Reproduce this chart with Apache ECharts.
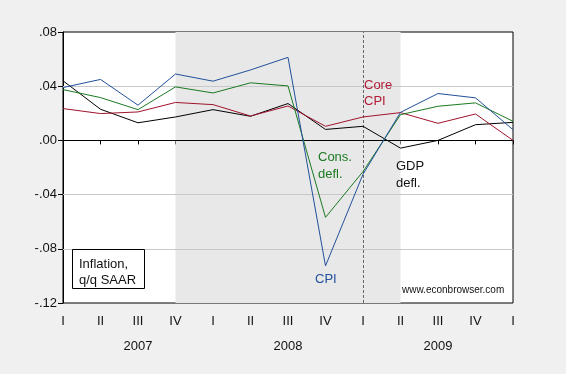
<!DOCTYPE html>
<html><head><meta charset="utf-8">
<script src="https://cdn.jsdelivr.net/npm/echarts@6/dist/echarts.min.js"></script>
<style>html,body{margin:0;padding:0;background:#f0f0f0;}#c{width:566px;height:374px;}</style>
</head><body><div id="c"></div>
<script>
const quarters = ['2007Q1','2007Q2','2007Q3','2007Q4','2008Q1','2008Q2','2008Q3','2008Q4','2009Q1','2009Q2','2009Q3','2009Q4','2010Q1'];
const cpi      = [0.039, 0.045, 0.026, 0.049, 0.0437, 0.052, 0.0613, -0.0926, -0.025, 0.0207, 0.0346, 0.0314, 0.0079];
const consDefl = [0.0375, 0.0316, 0.0227, 0.0395, 0.035, 0.0425, 0.0402, -0.0568, -0.023, 0.019, 0.0252, 0.0277, 0.0141];
const coreCpi  = [0.0235, 0.0198, 0.021, 0.028, 0.0264, 0.018, 0.0254, 0.0104, 0.0173, 0.0205, 0.0126, 0.0195, 0.0];
const gdpDefl  = [0.044, 0.023, 0.013, 0.0173, 0.0227, 0.0178, 0.0272, 0.0081, 0.0104, -0.0057, 0.0, 0.0116, 0.0133];
const yTicks = {'0.08':'.08','0.04':'.04','0':'.00','-0.04':'-.04','-0.08':'-.08','-0.12':'-.12'};
const gridVals = [0.04, -0.04, -0.08];
const roman = ['I','II','III','IV'];

const chart = echarts.init(document.getElementById('c'), null, {renderer:'canvas'});
const font = 'Liberation Sans, Arial, sans-serif';
function fmtY(v){ const k = String(Math.round(v*100)/100); return yTicks[k] !== undefined ? yTicks[k] : ''; }
const mk = (name, data, color, z) => ({
  name, type:'line', data, symbol:'none', z,
  lineStyle:{color, width:1}, itemStyle:{color}, animation:false
});
const series = [
  {name:'shade', type:'line', data:[], z:1, silent:true, animation:false,
   markArea:{silent:true, itemStyle:{color:'#e8e8e8'}, data:[[{xAxis:'2007Q4'},{xAxis:'2009Q2'}]]}},
  {name:'grid', type:'line', data:[], z:2, silent:true, animation:false,
   markLine:{silent:true, symbol:'none', label:{show:false}, animation:false,
     data: gridVals.map(v=>({yAxis:v, lineStyle:{color:'#c8c8c8', type:'solid', width:1}})).concat([
       {xAxis:'2009Q1', lineStyle:{color:'#666', type:[3,2], width:1}},
       {yAxis:0, lineStyle:{color:'#000', type:'solid', width:1}}
     ])}},
  mk('GDP defl.', gdpDefl, '#000000', 5),
  mk('Core CPI', coreCpi, '#a0142c', 6),
  mk('Cons. defl.', consDefl, '#1b7a22', 7),
  mk('CPI', cpi, '#22509a', 8)
];

chart.setOption({
  backgroundColor:'#f0f0f0',
  animation:false,
  grid:{left:63, right:53, top:32, bottom:71, show:true, backgroundColor:'#ffffff', borderColor:'#000', borderWidth:1},
  xAxis:[{
    type:'category', data:quarters, boundaryGap:false,
    axisLine:{lineStyle:{color:'#000'}},
    axisTick:{show:true, inside:false, length:4, interval:0, lineStyle:{color:'#000'}},
    axisLabel:{interval:0, color:'#111', fontFamily:font, fontSize:13, margin:12,
      formatter:(v)=>roman[parseInt(v.slice(5))-1]},
    splitLine:{show:false}
  },{
    type:'category', data:quarters, boundaryGap:false, position:'bottom', offset:0,
    axisLine:{show:false}, axisTick:{show:false},
    axisLabel:{interval:0, color:'#111', fontFamily:font, fontSize:13, margin:37,
      formatter:(v)=> (v.slice(4)==='Q3') ? v.slice(0,4) : ''},
    splitLine:{show:false}
  }],
  yAxis:{
    type:'value', min:-0.12, max:0.08, interval:0.04,
    axisLine:{show:true, lineStyle:{color:'#000'}},
    axisTick:{show:true, length:5, lineStyle:{color:'#000'}},
    axisLabel:{color:'#111', fontFamily:font, fontSize:13, margin:6, formatter:fmtY},
    splitLine:{show:false}
  },
  series,
  graphic:[
    {type:'rect', left:72, top:249, shape:{width:72, height:39}, style:{fill:'#fff', stroke:'#000', lineWidth:1}, z:20},
    {type:'text', left:79, top:256, style:{text:'Inflation,\nq/q SAAR', font:'13px '+font, fill:'#111', lineHeight:16}, z:21},
    {type:'text', left:364, top:77, style:{text:'Core\nCPI', font:'13px '+font, fill:'#b01c36', lineHeight:16}, z:21},
    {type:'text', left:318, top:149, style:{text:'Cons.\ndefl.', font:'13px '+font, fill:'#1b7a22', lineHeight:17}, z:21},
    {type:'text', left:315, top:273, style:{text:'CPI', font:'13px '+font, fill:'#22509a'}, z:21},
    {type:'text', left:396, top:158, style:{text:'GDP\ndefl.', font:'13px '+font, fill:'#111', lineHeight:17}, z:21},
    {type:'text', left:402, top:285, style:{text:'www.econbrowser.com', font:'10px '+font, fill:'#111'}, z:21}
  ]
});
</script></body></html>
